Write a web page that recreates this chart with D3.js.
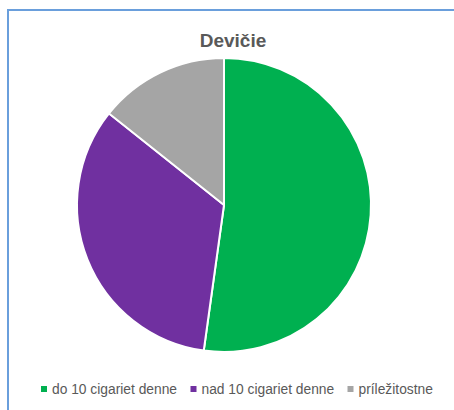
<!DOCTYPE html>
<html><head><meta charset="utf-8">
<script src="https://cdn.jsdelivr.net/npm/d3@7/dist/d3.min.js"></script>
<style>html,body{margin:0;padding:0;background:#fff;}svg{display:block;}</style>
</head><body>
<script>
const title = "Devičie";
const categories = ["do 10 cigariet denne", "nad 10 cigariet denne", "príležitostne"];
const values = [52.2, 33.5, 14.3];
const colors = ["#00B050", "#7030A0", "#A5A5A5"];

const W = 454, H = 410;
const svg = d3.select("body").append("svg").attr("width", W).attr("height", H);

svg.append("rect").attr("x", 8).attr("y", 10).attr("width", 470).attr("height", 430)
  .attr("fill", "#fff").attr("stroke", "#6A9FDC").attr("stroke-width", 2);

svg.append("text").attr("x", 233).attr("y", 47).attr("text-anchor", "middle")
  .attr("font-family", "Liberation Sans, Arial, sans-serif").attr("font-weight", "bold")
  .attr("font-size", 19).attr("fill", "#595959").text(title);

const data = categories.map((c, i) => ({ c, v: values[i], col: colors[i] }));
const pie = d3.pie().value(d => d.v).sort(null);
const arc = d3.arc().innerRadius(0).outerRadius(147);
const g = svg.append("g").attr("transform", "translate(224,205)");
g.selectAll("path").data(pie(data)).join("path")
  .attr("d", arc).attr("fill", d => d.data.col)
  .attr("stroke", "#fff").attr("stroke-width", 2);

const legendX = [41, 190.5, 347.5];
const lg = svg.append("g");
data.forEach((d, i) => {
  lg.append("rect").attr("x", legendX[i]).attr("y", 386).attr("width", 6).attr("height", 6).attr("fill", d.col);
  lg.append("text").attr("x", legendX[i] + 11).attr("y", 394)
    .attr("font-family", "Liberation Sans, Arial, sans-serif").attr("font-size", 13.8)
    .attr("fill", "#595959").text(d.c);
});
</script>
</body></html>
